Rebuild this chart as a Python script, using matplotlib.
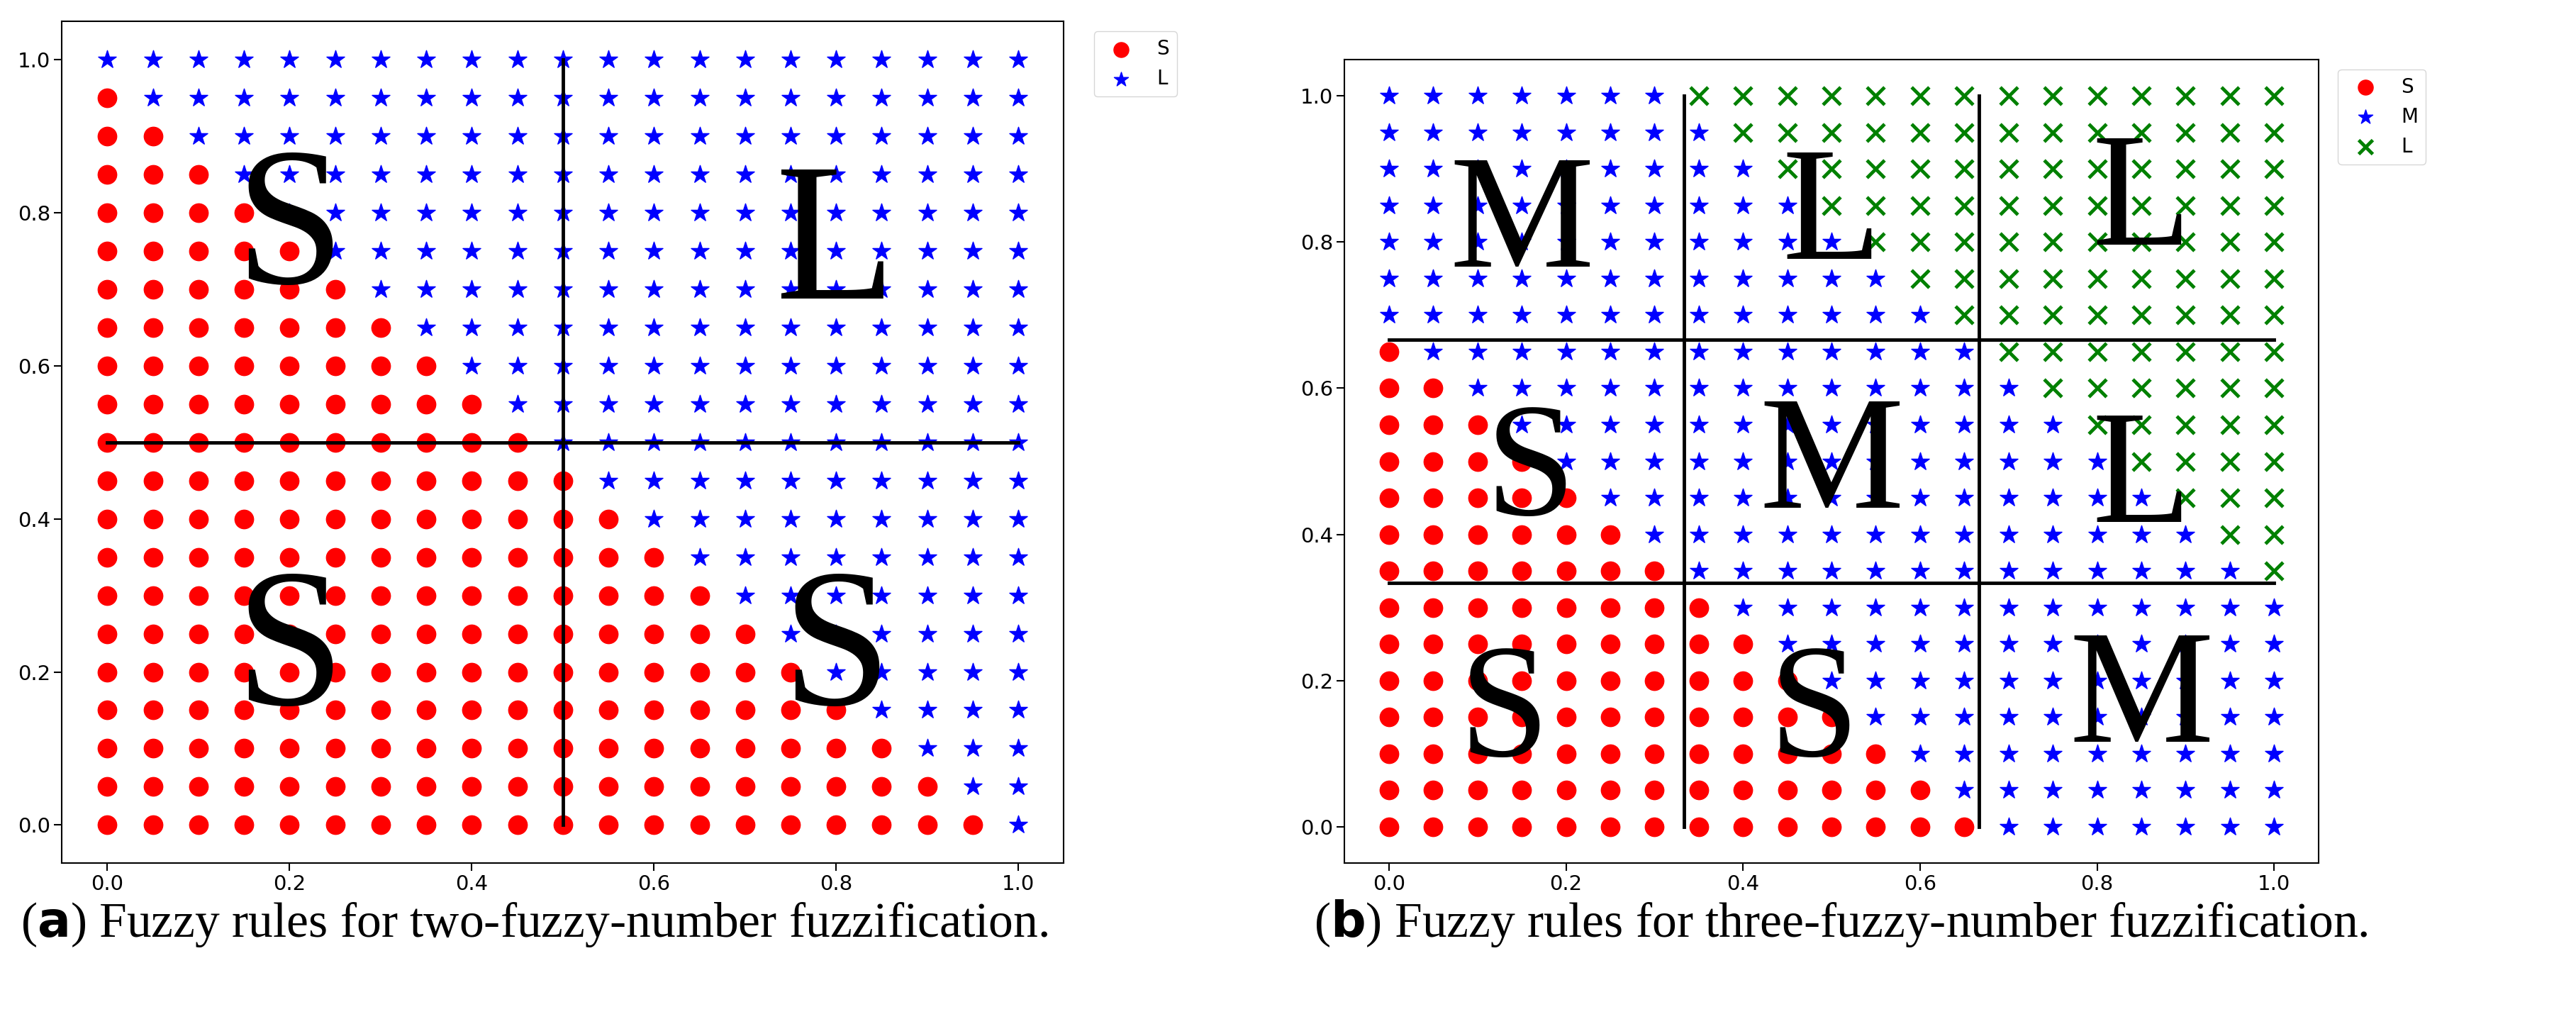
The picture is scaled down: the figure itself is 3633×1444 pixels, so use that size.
import numpy as np
import matplotlib
matplotlib.use("Agg")
import matplotlib.pyplot as plt

# --- data ---
grid = [round(0.05 * k, 2) for k in range(21)]          # x and y positions
# panel (a): number of "S" points in each row (row y = grid[j]), rest "L"
left_s_counts = [20, 19, 18, 17, 16, 15, 14, 13, 12, 11, 10, 9, 8, 7, 6, 5, 4, 3, 2, 1, 0]
# panel (b): per row, number of "S" then "M" points, rest "L"
right_s_counts = [14, 13, 12, 11, 10, 9, 8, 7, 6, 5, 4, 3, 2, 1, 0, 0, 0, 0, 0, 0, 0]
right_m_counts = [7, 8, 9, 10, 11, 12, 13, 13, 13, 13, 13, 13, 13, 13, 13, 12, 11, 10, 9, 8, 7]

left_labels = [("S", 0.2, 0.77), ("L", 0.8, 0.75), ("S", 0.2, 0.22), ("S", 0.8, 0.22)]
right_labels = [("M", 0.15, 0.82), ("L", 0.5, 0.83), ("L", 0.85, 0.85),
                ("S", 0.16, 0.48), ("M", 0.5, 0.49), ("L", 0.85, 0.47),
                ("S", 0.13, 0.15), ("S", 0.48, 0.15), ("M", 0.85, 0.17)]

caption_a = "Fuzzy rules for two-fuzzy-number fuzzification."
caption_b = "Fuzzy rules for three-fuzzy-number fuzzification."

def split_points(counts_list):
    # counts_list: list of per-row counts for consecutive classes
    groups = [([], []) for _ in range(len(counts_list) + 1)]
    for j, y in enumerate(grid):
        start = 0
        for g, counts in enumerate(counts_list):
            n = counts[j]
            for i in range(start, start + n):
                groups[g][0].append(grid[i]); groups[g][1].append(y)
            start += n
        for i in range(start, len(grid)):
            groups[-1][0].append(grid[i]); groups[-1][1].append(y)
    return groups

fig = plt.figure(figsize=(36.33, 14.44), dpi=100)
ax1 = fig.add_axes([0.024, 0.157, 0.389, 0.822])
ax2 = fig.add_axes([0.522, 0.157, 0.378, 0.785])

S = dict(c="red", marker="o", s=360, label="S")
M = dict(c="blue", marker="*", s=360, label="M")
L = dict(c="green", marker="x", s=320, linewidths=3.5, label="L")

# panel (a)
gs, gl = split_points([left_s_counts])
ax1.scatter(*gs, **S)
ax1.scatter(*gl, **dict(M, label="L"))
ax1.plot([0, 1], [0.5, 0.5], color="black", lw=3.5)
ax1.plot([0.5, 0.5], [0, 1], color="black", lw=3.5)
for t, x, y in left_labels:
    ax1.text(x, y, t, fontsize=200, family="Liberation Serif", ha="center", va="center")
ax1.legend(loc="upper left", bbox_to_anchor=(1.02, 1.0), fontsize=20, markerscale=0.8)

# panel (b)
gs, gm, gl = split_points([right_s_counts, right_m_counts])
ax2.scatter(*gs, **S)
ax2.scatter(*gm, **M)
ax2.scatter(*gl, **L)
for v in (1 / 3, 2 / 3):
    ax2.plot([0, 1], [v, v], color="black", lw=3.5)
    ax2.plot([v, v], [0, 1], color="black", lw=3.5)
for t, x, y in right_labels:
    ax2.text(x, y, t, fontsize=165, family="Liberation Serif", ha="center", va="center")
ax2.legend(loc="upper left", bbox_to_anchor=(1.01, 1.0), fontsize=20, markerscale=0.8)

for ax in (ax1, ax2):
    ax.set_xticks([0, 0.2, 0.4, 0.6, 0.8, 1.0])
    ax.set_yticks([0, 0.2, 0.4, 0.6, 0.8, 1.0])
    ax.tick_params(labelsize=21, length=8, width=1.5)
    for sp in ax.spines.values():
        sp.set_linewidth(1.5)

fig.text(0.008, 0.085, r"($\mathbf{a}$) " + caption_a, fontsize=50, family="Liberation Serif")
fig.text(0.51, 0.085, r"($\mathbf{b}$) " + caption_b, fontsize=50, family="Liberation Serif")

fig.savefig("out.png", dpi=100)
